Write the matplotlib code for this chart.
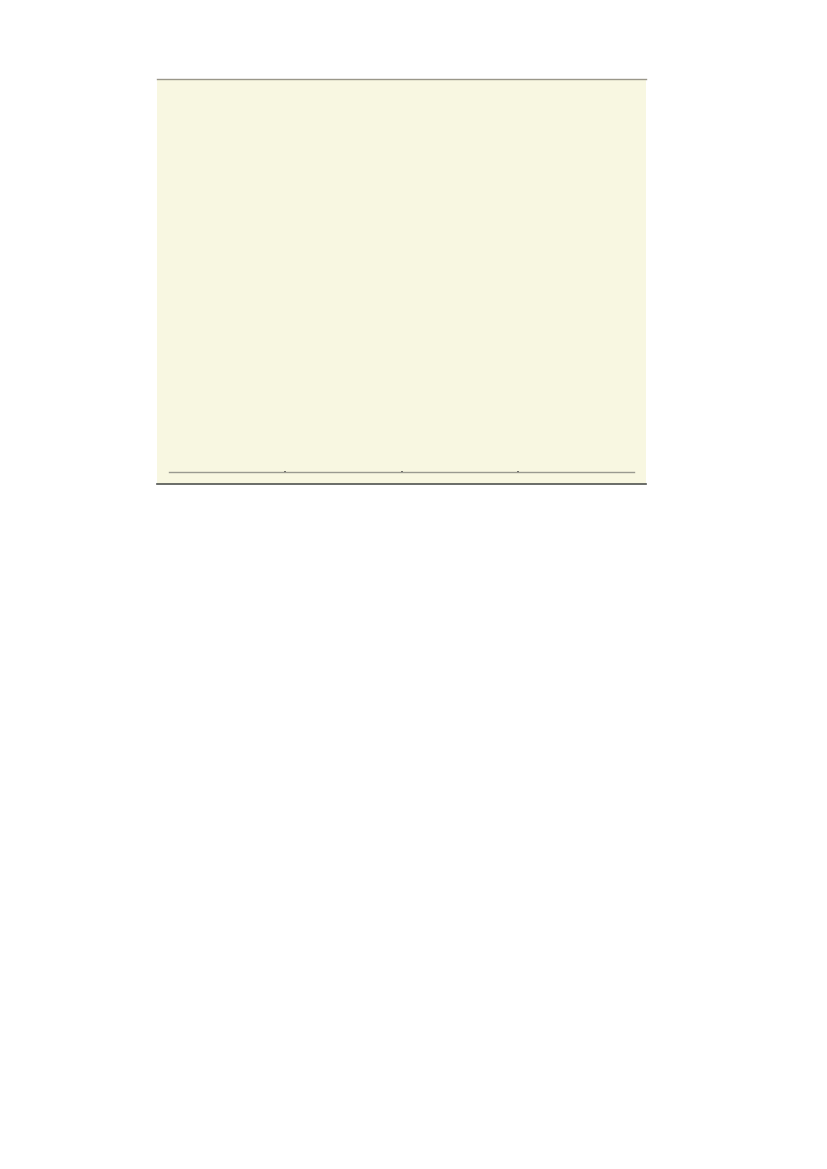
import matplotlib
matplotlib.use("Agg")
import matplotlib.pyplot as plt

# empty chart: no series drawn, only the frame and a bare x axis
x_limits = [0, 4]
x_ticks = [1, 2, 3]
x_tick_labels = ["", "", ""]
series_x = []
series_y = []

fig = plt.figure(figsize=(8.27, 11.69), dpi=100)

# beige panel
panel = fig.add_axes([157 / 827, 1 - 483.5 / 1169, 489 / 827, 404.5 / 1169])
panel.set_facecolor("#f8f7e1")
panel.set_xticks([])
panel.set_yticks([])
for side in ["left", "right"]:
    panel.spines[side].set_visible(False)
panel.spines["top"].set_color("#9a978a")
panel.spines["top"].set_linewidth(1.0)
panel.spines["bottom"].set_color("#505450")
panel.spines["bottom"].set_linewidth(1.2)

# plot area inside the panel
ax = fig.add_axes([169 / 827, 1 - 472 / 1169, 465 / 827, 380 / 1169])
ax.patch.set_alpha(0)
ax.plot(series_x, series_y)
ax.set_xlim(x_limits)
ax.set_ylim(0, 1)
ax.set_xticks(x_ticks)
ax.set_xticklabels(x_tick_labels)
ax.set_yticks([])
for side in ["left", "right", "top"]:
    ax.spines[side].set_visible(False)
ax.spines["bottom"].set_color("#9a9a90")
ax.spines["bottom"].set_linewidth(1.0)
ax.tick_params(axis="x", length=0.8, width=1.2, color="#4a4a4a", direction="inout")

fig.savefig("out.png", dpi=100)
